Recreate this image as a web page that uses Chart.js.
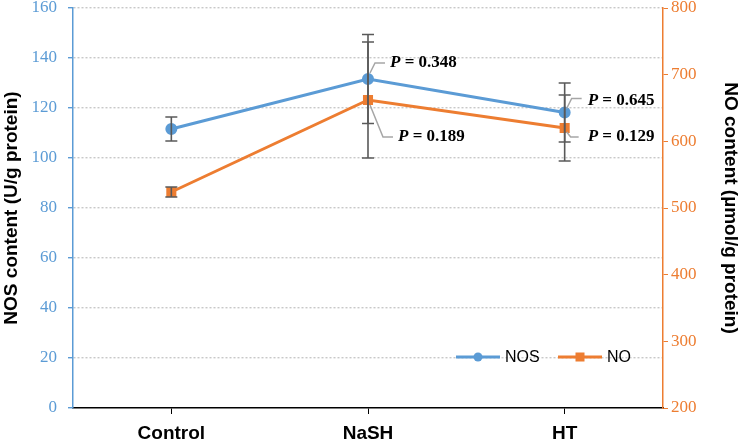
<!DOCTYPE html>
<html>
<head>
<meta charset="utf-8">
<script src="https://cdn.jsdelivr.net/npm/chart.js@4"></script>
<style>
  body { margin: 0; background: #fff; }
  #wrap { width: 742px; height: 441px; }
</style>
</head>
<body>
<div id="wrap"><canvas id="chart" width="742" height="441"></canvas></div>
<script>
// data
const groups = ["Control", "NaSH", "HT"];
const nosValues = [111.6, 131.6, 118.2];
const nosErrors = [4.8, 17.8, 11.8];
const noValues = [524, 662, 620];
const noErrors = [7.5, 87, 49.5];
const nosPValues = [null, "0.348", "0.645"];
const noPValues = [null, "0.189", "0.129"];
const nosTicks = [0, 20, 40, 60, 80, 100, 120, 140, 160];
const noTicks = [200, 300, 400, 500, 600, 700, 800];

const BLUE = "#5B9BD5";
const ORANGE = "#ED7D31";

// leader line offsets for the P labels (relative to the point)
const nosLeader = [null, { a: [2, -6], b: [7, -16], c: [17, -16], t: [22, -16] },
                         { a: [2, -4], b: [7, -14], c: [17, -14], t: [23, -12] }];
const noLeader = [null, { a: [2, 5], b: [15, 37], c: [25, 37], t: [30, 37] },
                        { a: [2, 4], b: [6, 9], c: [14, 9], t: [23, 9] }];

const errorBars = {
  id: "errorBars",
  afterDatasetsDraw(chart) {
    const ctx = chart.ctx;
    const errs = [nosErrors, noErrors];
    ctx.save();
    ctx.strokeStyle = "#595959";
    ctx.lineWidth = 1.6;
    chart.data.datasets.forEach((ds, i) => {
      const meta = chart.getDatasetMeta(i);
      const sc = chart.scales[ds.yAxisID];
      meta.data.forEach((pt, j) => {
        const v = ds.data[j];
        const top = sc.getPixelForValue(v + errs[i][j]);
        const bot = sc.getPixelForValue(v - errs[i][j]);
        ctx.beginPath();
        ctx.moveTo(pt.x, top); ctx.lineTo(pt.x, bot);
        ctx.moveTo(pt.x - 6, top); ctx.lineTo(pt.x + 6, top);
        ctx.moveTo(pt.x - 6, bot); ctx.lineTo(pt.x + 6, bot);
        ctx.stroke();
      });
    });
    ctx.restore();
  }
};

const pLabels = {
  id: "pLabels",
  afterDraw(chart) {
    const ctx = chart.ctx;
    const sets = [[nosPValues, nosLeader], [noPValues, noLeader]];
    ctx.save();
    sets.forEach(([vals, lead], i) => {
      const meta = chart.getDatasetMeta(i);
      vals.forEach((p, j) => {
        if (p === null) return;
        const pt = meta.data[j];
        const L = lead[j];
        ctx.strokeStyle = "#a6a6a6";
        ctx.lineWidth = 1.5;
        ctx.beginPath();
        ctx.moveTo(pt.x + L.a[0], pt.y + L.a[1]);
        ctx.lineTo(pt.x + L.b[0], pt.y + L.b[1]);
        ctx.lineTo(pt.x + L.c[0], pt.y + L.c[1]);
        ctx.stroke();
        let x = pt.x + L.t[0];
        const y = pt.y + L.t[1];
        ctx.fillStyle = "#000";
        ctx.textBaseline = "middle";
        ctx.textAlign = "left";
        ctx.font = "italic bold 17px 'Liberation Serif'";
        ctx.fillText("P", x, y);
        x += ctx.measureText("P").width;
        ctx.font = "bold 17px 'Liberation Serif'";
        ctx.fillText(" = " + p, x, y);
      });
    });
    ctx.restore();
  }
};

const insideLegend = {
  id: "insideLegend",
  afterDraw(chart) {
    const ctx = chart.ctx;
    const a = chart.chartArea;
    const y = a.bottom - 51;
    const items = [
      { x: a.right - 207, label: "NOS", color: BLUE, square: false },
      { x: a.right - 105, label: "NO", color: ORANGE, square: true }
    ];
    ctx.save();
    items.forEach(it => {
      ctx.strokeStyle = it.color;
      ctx.fillStyle = it.color;
      ctx.lineWidth = 3;
      ctx.beginPath();
      ctx.moveTo(it.x, y); ctx.lineTo(it.x + 44, y);
      ctx.stroke();
      if (it.square) {
        ctx.fillRect(it.x + 22 - 4.5, y - 4.5, 9, 9);
      } else {
        ctx.beginPath();
        ctx.arc(it.x + 22, y, 4.5, 0, Math.PI * 2);
        ctx.fill();
      }
      ctx.fillStyle = "#000";
      ctx.font = "16px 'Liberation Sans'";
      ctx.textBaseline = "middle";
      ctx.fillText(it.label, it.x + 49, y + 1);
    });
    ctx.restore();
  }
};

new Chart(document.getElementById("chart"), {
  type: "line",
  data: {
    labels: groups,
    datasets: [
      {
        label: "NOS",
        data: nosValues,
        yAxisID: "yNOS",
        borderColor: BLUE,
        backgroundColor: BLUE,
        borderWidth: 3,
        pointRadius: 4.5,
        pointStyle: "circle",
        tension: 0
      },
      {
        label: "NO",
        data: noValues,
        yAxisID: "yNO",
        borderColor: ORANGE,
        backgroundColor: ORANGE,
        borderWidth: 3,
        pointRadius: 5,
        pointStyle: "rect",
        tension: 0
      }
    ]
  },
  options: {
    responsive: false,
    animation: false,
    layout: { padding: 0 },
    plugins: {
      legend: { display: false },
      tooltip: { enabled: false }
    },
    scales: {
      x: {
        offset: true,
        grid: { drawOnChartArea: false, offset: false, tickLength: 6, color: "#000", tickColor: "#000" },
        border: { color: "#000", width: 1.5 },
        ticks: { color: "#000", font: { family: "Liberation Sans", weight: "bold", size: 19 }, padding: 8 },
        afterFit(s) { s.height = 33; s.paddingLeft = 0; s.paddingRight = 0; }
      },
      yNOS: {
        position: "left",
        min: 0, max: 160,
        afterBuildTicks(s) { s.ticks = nosTicks.map(v => ({ value: v })); },
        grid: {
          color: c => (c.tick && c.tick.value === 0 ? "rgba(0,0,0,0)" : "#c8c8c8"),
          lineWidth: 1.4,
          tickLength: 5,
          tickColor: BLUE
        },
        border: { color: BLUE, width: 1.5, dash: [2, 2] },
        ticks: { color: BLUE, font: { family: "Liberation Serif", size: 17 }, padding: 11 },
        title: {
          display: true,
          text: "NOS content (U/g protein)",
          color: "#000",
          font: { family: "Liberation Sans", weight: "bold", size: 19 },
          padding: 0
        },
        afterFit(s) { s.width = 73; s.paddingTop = 8; s.paddingBottom = 0; }
      },
      yNO: {
        position: "right",
        min: 200, max: 800,
        afterBuildTicks(s) { s.ticks = noTicks.map(v => ({ value: v })); },
        grid: { drawOnChartArea: false, tickLength: 5, tickColor: ORANGE },
        border: { color: ORANGE, width: 1.5 },
        ticks: { color: ORANGE, font: { family: "Liberation Serif", size: 17 }, padding: 3 },
        title: {
          display: true,
          text: "NO content (µmol/g protein)",
          color: "#000",
          font: { family: "Liberation Sans", weight: "bold", size: 19 },
          padding: 0
        },
        afterFit(s) { s.width = 79; s.paddingTop = 8; s.paddingBottom = 0; }
      }
    }
  },
  plugins: [errorBars, pLabels, insideLegend]
});
</script>
</body>
</html>
